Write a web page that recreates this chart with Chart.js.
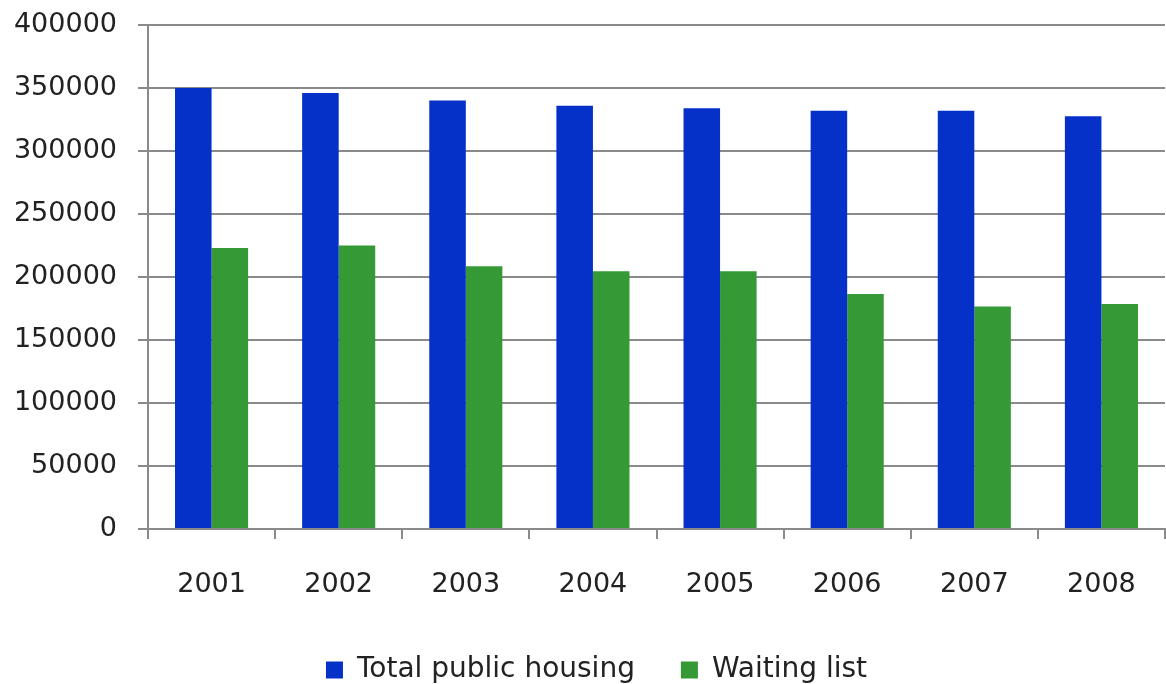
<!DOCTYPE html>
<html>
<head>
<meta charset="utf-8">
<title>Public housing</title>
<script src="https://cdn.jsdelivr.net/npm/chart.js@4.4.0/dist/chart.umd.min.js"></script>
<style>
  html, body { margin: 0; padding: 0; background: #fff; }
</style>
</head>
<body>
<canvas id="chart" width="1166" height="684"></canvas>
<script>
const years = ['2001', '2002', '2003', '2004', '2005', '2006', '2007', '2008'];
const totalPublicHousing = [350000, 346000, 340000, 336000, 334000, 332000, 332000, 327500];
const waitingList = [223000, 225000, 208500, 204500, 204500, 186500, 176500, 178500];
const yTicks = [0, 50000, 100000, 150000, 200000, 250000, 300000, 350000, 400000];

const gridGrey = '#8a8a8a';
const textColor = '#222222';
const family = '"DejaVu Sans", Verdana, sans-serif';
const axisFont = { family: family, size: 27 };
const legendFont = { family: family, size: 28 };

// nudge the legend a little right of the canvas centre
const legendShift = {
  id: 'legendShift',
  afterLayout(chart) {
    chart.legend.left += 14;
    chart.legend.right += 14;
  },
};

new Chart(document.getElementById('chart'), {
  type: 'bar',
  data: {
    labels: years,
    datasets: [
      {
        label: 'Total public housing',
        data: totalPublicHousing,
        backgroundColor: '#0531c8',
        borderWidth: 0,
      },
      {
        label: 'Waiting list',
        data: waitingList,
        backgroundColor: '#359a35',
        borderWidth: 0,
      },
    ],
  },
  options: {
    responsive: false,
    animation: false,
    layout: { padding: { top: 25, right: 1, bottom: -10, left: 0 } },
    datasets: {
      bar: { categoryPercentage: 0.575, barPercentage: 1.0 },
    },
    scales: {
      x: {
        grid: {
          display: true,
          drawOnChartArea: false,
          drawTicks: true,
          tickLength: 10,
          color: gridGrey,
          lineWidth: 2,
          offset: true,
        },
        border: { color: gridGrey, width: 2 },
        ticks: { color: textColor, font: axisFont, padding: 30, maxRotation: 0 },
        afterFit: (scale) => { scale.height = 81; },
      },
      y: {
        min: 0,
        max: 400000,
        afterBuildTicks: (scale) => {
          scale.ticks = yTicks.map(v => ({ value: v }));
        },
        grid: {
          color: gridGrey,
          lineWidth: 2,
          tickLength: 10,
        },
        border: { color: gridGrey, width: 2 },
        ticks: {
          color: textColor,
          font: axisFont,
          padding: 21,
          callback: (v) => String(v),
        },
        afterFit: (scale) => {
          scale.width = 148;
          // top label may overhang; the layout padding leaves room for it
          scale.paddingTop = 0;
          scale.paddingBottom = 0;
        },
      },
    },
    plugins: {
      tooltip: { enabled: false },
      legend: {
        position: 'bottom',
        labels: {
          color: textColor,
          font: legendFont,
          boxWidth: 17,
          boxHeight: 17,
          padding: 46,
        },
      },
    },
  },
  plugins: [legendShift],
});
</script>
</body>
</html>
